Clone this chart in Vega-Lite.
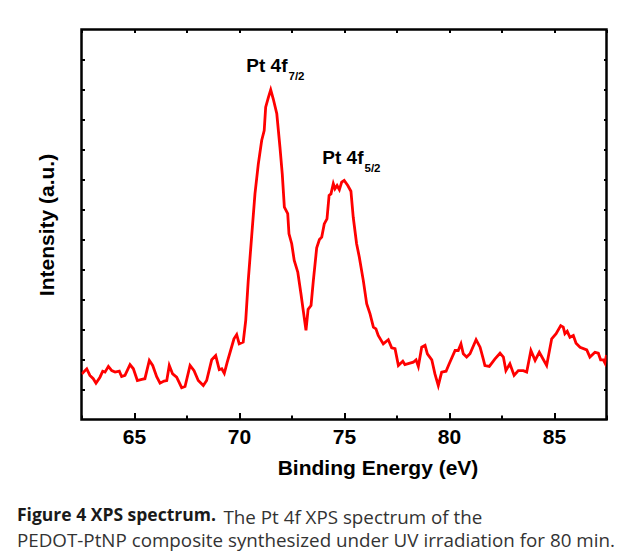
{
"$schema": "https://vega.github.io/schema/vega-lite/v6.json",
"width": 525,
"height": 390,
"autosize": "none",
"padding": {"left": 81.5, "top": 29.5, "right": 22.5, "bottom": 132.5},
"background": "white",
"config": {"view": {"stroke": "black", "strokeWidth": 2.5}, "font": "Liberation Sans"},
"title": {
  "text": "Figure 4 XPS spectrum.",
  "subtitle": "PEDOT-PtNP composite synthesized under UV irradiation for 80 min.",
  "orient": "bottom",
  "anchor": "start",
  "frame": "group",
  "dx": -64.5,
  "offset": -20,
  "font": "Open Sans",
  "fontSize": 17.5,
  "fontWeight": "bold",
  "color": "#1a1a1a",
  "subtitleFont": "Open Sans",
  "subtitleFontSize": 18.8,
  "subtitleFontWeight": "normal",
  "subtitleColor": "#333333",
  "subtitlePadding": 8
},
"datasets": {
  "spectrum": [
{"E":62.51,"I":1.52},{"E":62.75,"I":1.69},{"E":62.90,"I":1.47},{"E":63.06,"I":1.36},{"E":63.19,"I":1.21},{"E":63.38,"I":1.41},{"E":63.51,"I":1.61},{"E":63.62,"I":1.58},{"E":63.78,"I":1.77},{"E":63.94,"I":1.63},{"E":64.10,"I":1.58},{"E":64.30,"I":1.61},{"E":64.41,"I":1.43},{"E":64.57,"I":1.47},{"E":64.81,"I":1.83},{"E":64.97,"I":1.69},{"E":65.16,"I":1.30},{"E":65.37,"I":1.34},{"E":65.52,"I":1.36},{"E":65.73,"I":1.97},{"E":65.89,"I":1.80},{"E":66.08,"I":1.43},{"E":66.24,"I":1.21},{"E":66.43,"I":1.28},{"E":66.56,"I":1.30},{"E":66.68,"I":1.80},{"E":66.84,"I":1.52},{"E":67.03,"I":1.41},{"E":67.27,"I":1.06},{"E":67.43,"I":1.10},{"E":67.67,"I":1.80},{"E":67.86,"I":1.63},{"E":68.06,"I":1.30},{"E":68.30,"I":1.13},{"E":68.46,"I":1.30},{"E":68.70,"I":1.99},{"E":68.89,"I":2.13},{"E":69.06,"I":1.66},{"E":69.18,"I":1.69},{"E":69.30,"I":1.54},{"E":69.44,"I":1.91},{"E":69.60,"I":2.30},{"E":69.76,"I":2.69},{"E":69.89,"I":2.83},{"E":70.01,"I":2.52},{"E":70.20,"I":2.58},{"E":70.32,"I":3.30},{"E":70.44,"I":4.63},{"E":70.60,"I":6.08},{"E":70.76,"I":7.52},{"E":70.92,"I":8.52},{"E":71.08,"I":9.30},{"E":71.20,"I":9.63},{"E":71.27,"I":10.41},{"E":71.40,"I":10.74},{"E":71.51,"I":10.99},{"E":71.63,"I":10.69},{"E":71.80,"I":10.19},{"E":71.95,"I":9.08},{"E":72.06,"I":8.19},{"E":72.16,"I":7.08},{"E":72.32,"I":6.86},{"E":72.38,"I":6.19},{"E":72.51,"I":5.86},{"E":72.63,"I":5.30},{"E":72.80,"I":4.91},{"E":72.95,"I":4.19},{"E":73.06,"I":3.63},{"E":73.19,"I":2.97},{"E":73.29,"I":3.67},{"E":73.43,"I":3.80},{"E":73.54,"I":4.63},{"E":73.70,"I":5.72},{"E":73.83,"I":6.00},{"E":73.94,"I":6.08},{"E":74.06,"I":6.52},{"E":74.19,"I":6.69},{"E":74.29,"I":7.47},{"E":74.38,"I":7.52},{"E":74.49,"I":7.86},{"E":74.57,"I":7.69},{"E":74.67,"I":7.80},{"E":74.78,"I":7.66},{"E":74.89,"I":7.91},{"E":75.01,"I":7.97},{"E":75.18,"I":7.80},{"E":75.33,"I":7.61},{"E":75.44,"I":6.74},{"E":75.60,"I":5.86},{"E":75.73,"I":5.41},{"E":75.92,"I":4.63},{"E":76.08,"I":3.86},{"E":76.24,"I":3.52},{"E":76.40,"I":3.08},{"E":76.52,"I":3.02},{"E":76.63,"I":2.80},{"E":76.87,"I":2.52},{"E":77.11,"I":2.66},{"E":77.27,"I":2.39},{"E":77.43,"I":2.36},{"E":77.59,"I":1.80},{"E":77.80,"I":1.94},{"E":77.90,"I":1.83},{"E":78.14,"I":1.88},{"E":78.30,"I":1.91},{"E":78.43,"I":1.99},{"E":78.54,"I":1.77},{"E":78.70,"I":2.41},{"E":78.86,"I":2.47},{"E":78.97,"I":2.19},{"E":79.18,"I":1.99},{"E":79.33,"I":1.52},{"E":79.49,"I":1.13},{"E":79.65,"I":1.58},{"E":79.86,"I":1.61},{"E":80.01,"I":1.86},{"E":80.29,"I":2.30},{"E":80.44,"I":2.30},{"E":80.57,"I":2.52},{"E":80.68,"I":2.19},{"E":80.84,"I":2.08},{"E":81.00,"I":2.19},{"E":81.29,"I":2.66},{"E":81.48,"I":2.41},{"E":81.63,"I":2.02},{"E":81.71,"I":1.80},{"E":81.92,"I":1.77},{"E":82.19,"I":2.02},{"E":82.43,"I":2.21},{"E":82.59,"I":2.08},{"E":82.71,"I":1.63},{"E":82.90,"I":1.86},{"E":83.10,"I":1.47},{"E":83.30,"I":1.63},{"E":83.54,"I":1.63},{"E":83.70,"I":1.58},{"E":83.90,"I":2.30},{"E":84.10,"I":1.97},{"E":84.30,"I":2.24},{"E":84.65,"I":1.80},{"E":84.89,"I":2.69},{"E":85.10,"I":2.86},{"E":85.32,"I":3.13},{"E":85.44,"I":3.08},{"E":85.52,"I":2.86},{"E":85.63,"I":2.94},{"E":85.76,"I":2.74},{"E":85.92,"I":2.80},{"E":86.05,"I":2.54},{"E":86.24,"I":2.41},{"E":86.56,"I":2.32},{"E":86.71,"I":2.08},{"E":86.95,"I":2.24},{"E":87.11,"I":2.21},{"E":87.22,"I":1.99},{"E":87.35,"I":1.99},{"E":87.43,"I":1.88},{"E":87.50,"I":2.15}
  ],
  "peaks": [
    {"E": 72.31, "I": 11.57, "main": "Pt 4f", "sub": "7/2"},
    {"E": 75.93, "I": 8.53, "main": "Pt 4f", "sub": "5/2"}
  ]
},
"layer": [
  {
    "data": {"name": "spectrum"},
    "mark": {"type": "line", "color": "#ff0000", "strokeWidth": 2.8, "clip": true},
    "encoding": {
      "x": {"field": "E", "type": "quantitative",
        "scale": {"domain": [62.5, 87.5], "nice": false, "zero": false},
        "axis": {"orient": "bottom", "values": [62.5,65,67.5,70,72.5,75,77.5,80,82.5,85,87.5],
          "format": ".0f", "domain": false, "grid": false, "tickColor": "black", "tickWidth": 2,
          "tickSize": {"condition": {"test": "datum.value % 5 === 0", "value": -7}, "value": -4.5},
          "labelExpr": "datum.value % 5 === 0 ? datum.label : ''",
          "labelFont": "Liberation Sans", "labelFontWeight": "bold", "labelFontSize": 21, "labelColor": "black",
          "labelPadding": 14, "labelBaseline": "top",
          "title": "Binding Energy (eV)", "titleFont": "Liberation Sans", "titleFontSize": 21, "titleFontWeight": "bold",
          "titleColor": "black", "titleX": 296, "titleY": 48.5, "titleBaseline": "middle"}},
      "y": {"field": "I", "type": "quantitative",
        "scale": {"domain": [0, 13], "nice": false, "zero": false},
        "axis": {"orient": "left", "values": [1,2,3,4,5,6,7,8,9,10,11,12], "labels": false, "domain": false, "grid": false,
          "tickColor": "black", "tickWidth": 2, "tickSize": -3,
          "title": "Intensity (a.u.)", "titleFont": "Liberation Sans", "titleFontSize": 21, "titleFontWeight": "bold",
          "titleColor": "black", "titleX": -34, "titleY": 195, "titleBaseline": "middle", "titleAngle": 270}}
    }
  },
  {
    "data": {"name": "spectrum"},
    "mark": {"type": "line", "opacity": 0},
    "encoding": {
      "x": {"field": "E", "type": "quantitative",
        "axis": {"orient": "top", "values": [62.5,65,67.5,70,72.5,75,77.5,80,82.5,85,87.5], "labels": false, "domain": false, "grid": false,
          "tickColor": "black", "tickWidth": 2, "tickSize": -3, "title": null}},
      "y": {"field": "I", "type": "quantitative",
        "axis": {"orient": "right", "values": [1,2,3,4,5,6,7,8,9,10,11,12], "labels": false, "domain": false, "grid": false,
          "tickColor": "black", "tickWidth": 2, "tickSize": -3, "title": null}}
    }
  },
  {
    "data": {"name": "peaks"},
    "mark": {"type": "text", "align": "right", "baseline": "alphabetic", "font": "Liberation Sans", "fontWeight": "bold", "fontSize": 19, "color": "black"},
    "encoding": {
      "x": {"field": "E", "type": "quantitative",
        "axis": {"orient": "bottom", "ticks": false, "labels": false, "domain": false, "grid": false,
          "title": "The Pt 4f XPS spectrum of the", "titleFont": "Open Sans", "titleFontSize": 18.8, "titleFontWeight": "normal",
          "titleColor": "#333333", "titleX": 141.5, "titleY": 103.5, "titleAlign": "left", "titleBaseline": "alphabetic"}},
      "y": {"field": "I", "type": "quantitative", "axis": null},
      "text": {"field": "main"}
    }
  },
  {
    "data": {"name": "peaks"},
    "mark": {"type": "text", "align": "left", "baseline": "alphabetic", "dx": 1, "dy": 8, "font": "Liberation Sans", "fontWeight": "bold", "fontSize": 11.5, "color": "black"},
    "encoding": {
      "x": {"field": "E", "type": "quantitative", "axis": null},
      "y": {"field": "I", "type": "quantitative", "axis": null},
      "text": {"field": "sub"}
    }
  }
],
"resolve": {"axis": {"x": "independent", "y": "independent"}}
}
